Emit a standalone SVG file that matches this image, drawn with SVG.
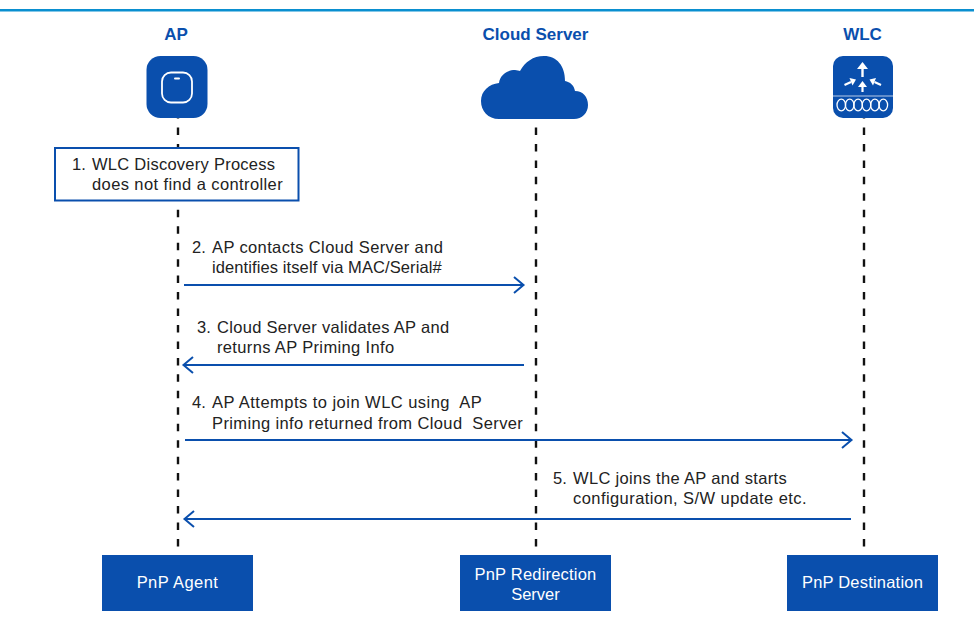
<svg xmlns="http://www.w3.org/2000/svg" width="974" height="623" viewBox="0 0 974 623">
<defs>
<marker id="arr" markerUnits="userSpaceOnUse" markerWidth="16" markerHeight="20" refX="12" refY="10" orient="auto"><path d="M2 2 L11.500 10 L2 18" fill="none" stroke="#0a4fad" stroke-width="2"/></marker>
</defs>
<style>
text{font-family:"Liberation Sans",Arial,sans-serif;font-size:16.5px;fill:#222}
.h{font-weight:700;font-size:17px;fill:#0a4fad;text-anchor:middle}
.b{fill:#0a4fad}
.w{fill:#fff;text-anchor:middle}
.life{stroke:#111;stroke-width:2.4;stroke-dasharray:7.500 8.960;fill:none}
.m{stroke:#0a4fad;stroke-width:2;fill:none}
</style>
<rect width="974" height="623" fill="#fff"/>
<rect x="0" y="9" width="974" height="2.500" fill="#0a8fd0"/>
<g id="connectors">
<path class="life" d="M178 111V547"/>
<path class="life" d="M536 111V547"/>
<path class="life" d="M864 111V547"/>
<path class="m" d="M184 285H524" marker-end="url(#arr)"/>
<path class="m" d="M524 365H183" marker-end="url(#arr)"/>
<path class="m" d="M185 440H852" marker-end="url(#arr)"/>
<path class="m" d="M851 519H184" marker-end="url(#arr)"/>
</g>
<g id="node-ap">
<text class="h" x="176" y="40">AP</text>
<rect class="b" x="146.500" y="56" width="61" height="62" rx="14"/>
<rect x="162" y="72.500" width="30" height="30" rx="9" fill="none" stroke="#fff" stroke-width="1.800"/>
<rect x="174" y="77.500" width="6" height="2" rx="1" fill="#fff"/>
</g>
<g id="node-cloud">
<text class="h" x="535.500" y="40">Cloud Server</text>
<path class="b" d="M499 119C488 119 481 111 481 101C481 91 489 84 499 83C500 75 507 70 515 70C517 70 519 71 520 71C525 62 533 56 544 56C557 56 565 66 565 81C570 82 574 85 575 91C583 91 588 97 588 105C588 113 582 119 574 119Z"/>
</g>
<g id="node-wlc">
<text class="h" x="862.500" y="40">WLC</text>
<rect class="b" x="833" y="56" width="60" height="62" rx="10"/>
<path d="M833 96H893" stroke="#b8cce8" stroke-width="1.200"/>
<g fill="none" stroke="#fff" stroke-width="1.300">
<path stroke-width="2.400" d="M862.500 77V66"/>
<path fill="#fff" stroke="none" d="M862.500 62L868 69H857Z"/>
<path stroke-width="2.200" d="M862.500 92V84"/>
<path fill="#fff" stroke="none" d="M862.500 81L867 87H858Z"/>
<path stroke-width="2.200" d="M844.500 85L851 82"/>
<path fill="#fff" stroke="none" d="M856 79.500L849.500 78L852.500 85.500Z"/>
<path stroke-width="2.200" d="M881 85L874.500 82"/>
<path fill="#fff" stroke="none" d="M869.500 79.500L876 78L873 85.500Z"/>
<ellipse cx="841.300" cy="105" rx="4.300" ry="5.800"/>
<ellipse cx="849.700" cy="105" rx="4.300" ry="5.800"/>
<ellipse cx="858.100" cy="105" rx="4.300" ry="5.800"/>
<ellipse cx="866.500" cy="105" rx="4.300" ry="5.800"/>
<ellipse cx="874.900" cy="105" rx="4.300" ry="5.800"/>
<ellipse cx="883.300" cy="105" rx="4.300" ry="5.800"/>
</g>
</g>
<g id="node-step1">
<rect x="55" y="148" width="243.500" height="52.500" fill="#fff" stroke="#0a4fad" stroke-width="2"/>
<text x="72" y="170">1. <tspan x="92" letter-spacing=".26">WLC Discovery Process</tspan></text>
<text x="92" y="190" letter-spacing=".4">does not find a controller</text>
</g>
<g id="labels">
<text x="192" y="253">2. <tspan x="212" letter-spacing=".375">AP contacts Cloud Server and</tspan></text>
<text x="212" y="273" letter-spacing=".1">identifies itself via MAC/Serial#</text>
<text x="197" y="333">3. <tspan x="217" letter-spacing=".31">Cloud Server validates AP and</tspan></text>
<text x="217" y="353" letter-spacing=".35">returns AP Priming Info</text>
<text x="192" y="408" xml:space="preserve">4. <tspan x="212" letter-spacing=".47">AP Attempts to join WLC using  AP</tspan></text>
<text x="212" y="429" xml:space="preserve" letter-spacing=".375">Priming info returned from Cloud  Server</text>
<text x="553" y="484">5. <tspan x="573" letter-spacing=".33">WLC joins the AP and starts</tspan></text>
<text x="573" y="504" letter-spacing=".43">configuration, S/W update etc.</text>
</g>
<g id="node-agent">
<rect class="b" x="102" y="555" width="151" height="56"/>
<text class="w" x="177.500" y="588" letter-spacing=".45">PnP Agent</text>
</g>
<g id="node-redirect">
<rect class="b" x="460" y="555" width="151" height="56"/>
<text class="w" x="535.500" y="580" letter-spacing=".2">PnP Redirection</text>
<text class="w" x="535.500" y="600">Server</text>
</g>
<g id="node-dest">
<rect class="b" x="787" y="555" width="151" height="56"/>
<text class="w" x="862.500" y="588" letter-spacing=".2">PnP Destination</text>
</g>
</svg>
